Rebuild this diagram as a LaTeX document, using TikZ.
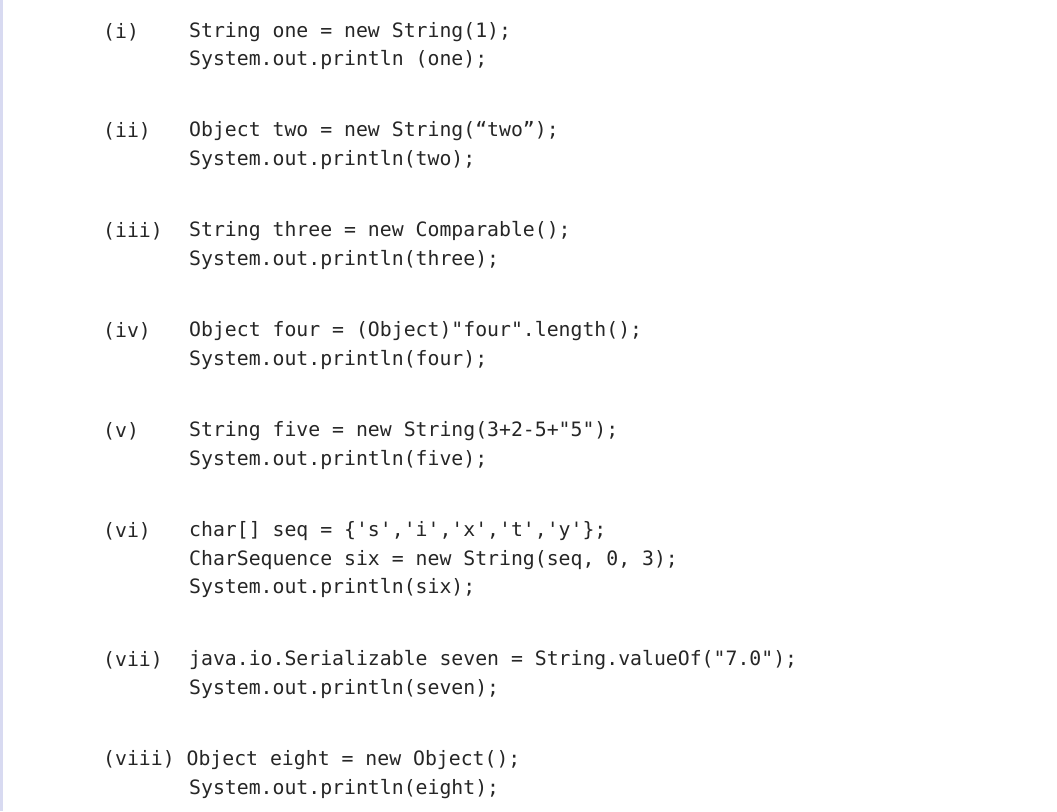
\documentclass[tikz,border=0pt]{standalone}
\usepackage{fontspec}
\newfontfamily\code{DejaVu Sans Mono}
\begin{document}
\begin{tikzpicture}[x=1pt,y=-1pt,
  ln/.style={anchor=west,inner sep=0pt,font=\code\fontsize{19.8}{22}\selectfont,text=black!85}]
\useasboundingbox (0,0) rectangle (1057,811);
\fill[white] (0,0) rectangle (1057,811);
\fill[cyan!30!blue!15] (0,0) rectangle (2.5,811);
\node[ln] (l1) at (103,32) {(i)};
\node[ln] (c1a) at (189,32) {String one = new String(1);};
\node[ln] (c1b) at (189,60) {System.out.println (one);};
\node[ln] (l2) at (103,131) {(ii)};
\node[ln] (c2a) at (189,131) {Object two = new String(“two”);};
\node[ln] (c2b) at (189,160) {System.out.println(two);};
\node[ln] (l3) at (103,231) {(iii)};
\node[ln] (c3a) at (189,231) {String three = new Comparable();};
\node[ln] (c3b) at (189,260) {System.out.println(three);};
\node[ln] (l4) at (103,331) {(iv)};
\node[ln] (c4a) at (189,331) {Object four = (Object)"four".length();};
\node[ln] (c4b) at (189,360) {System.out.println(four);};
\node[ln] (l5) at (103,431) {(v)};
\node[ln] (c5a) at (189,431) {String five = new String(3+2-5+"5");};
\node[ln] (c5b) at (189,460) {System.out.println(five);};
\node[ln] (l6) at (103,531) {(vi)};
\node[ln] (c6a) at (189,531) {char[] seq = \{'s','i','x','t','y'\};};
\node[ln] (c6b) at (189,560) {CharSequence six = new String(seq, 0, 3);};
\node[ln] (c6c) at (189,588) {System.out.println(six);};
\node[ln] (l7) at (103,660) {(vii)};
\node[ln] (c7a) at (189,660) {java.io.Serializable seven = String.valueOf("7.0");};
\node[ln] (c7b) at (189,689) {System.out.println(seven);};
\node[ln] (l8) at (103,760) {(viii) Object eight = new Object();};
\node[ln] (c8b) at (189,789) {System.out.println(eight);};
\end{tikzpicture}
\end{document}
